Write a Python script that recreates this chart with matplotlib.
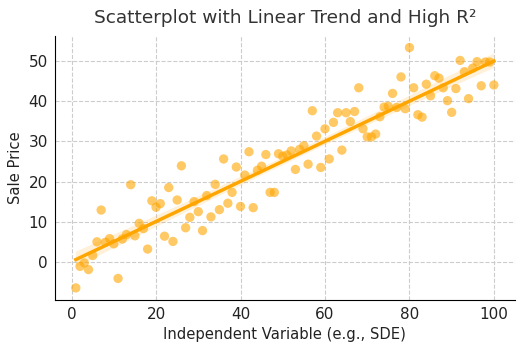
import matplotlib
matplotlib.use("Agg")
import matplotlib.pyplot as plt
import seaborn as sns
import numpy as np

x_values = list(range(1, 101))
y_values = [
    -6.45, -1.1, -0.25, -1.9, 1.6, 5.0, 12.9, 4.9, 5.8, 4.5,
    -4.1, 5.7, 6.8, 19.2, 6.5, 9.6, 8.3, 3.2, 15.2, 13.6,
    14.5, 6.4, 18.5, 5.1, 15.4, 23.9, 8.5, 11.1, 15.0, 12.5,
    7.8, 16.5, 11.2, 19.3, 13.0, 25.6, 14.6, 17.3, 23.6, 13.8,
    21.6, 27.4, 13.5, 22.8, 23.8, 26.7, 17.3, 17.3, 26.9, 26.3,
    26.6, 27.6, 23.0, 28.0, 28.9, 24.3, 37.6, 31.3, 23.5, 33.1,
    25.6, 34.7, 37.1, 27.8, 37.1, 34.9, 37.4, 43.3, 33.1, 31.1,
    31.1, 31.8, 36.1, 38.5, 38.7, 41.9, 38.4, 46.0, 38.1, 53.3,
    43.3, 36.6, 36.0, 44.2, 41.3, 46.3, 45.7, 43.3, 40.1, 37.2,
    43.1, 50.1, 47.3, 40.6, 48.2, 49.8, 43.8, 49.7, 49.7, 44.0,
]

title = "Scatterplot with Linear Trend and High R²"
xlabel = "Independent Variable (e.g., SDE)"
ylabel = "Sale Price"

fig = plt.figure(figsize=(5.28, 3.52), dpi=100)
ax = fig.add_axes([0.104, 0.148, 0.871, 0.751])

sns.regplot(x=np.array(x_values), y=np.array(y_values), ax=ax, color="orange",
            scatter_kws={"alpha": 0.6, "s": 45, "edgecolor": "none"},
            line_kws={"linewidth": 2.5}, seed=0)

ax.grid(True, linestyle="--", color="#cccccc", linewidth=0.8)
ax.set_axisbelow(True)
for s in ["top", "right"]:
    ax.spines[s].set_visible(False)
ax.set_title(title, fontsize=13.3, color="#333333", pad=9)
ax.set_xlabel(xlabel, fontsize=10.6, color="#222222")
ax.set_ylabel(ylabel, fontsize=10.6, color="#222222")
ax.tick_params(labelsize=11, colors="#222222", length=0, pad=5)
ax.set_xticks([0, 20, 40, 60, 80, 100])
ax.set_yticks([0, 10, 20, 30, 40, 50])

fig.savefig("out.png", dpi=100)
